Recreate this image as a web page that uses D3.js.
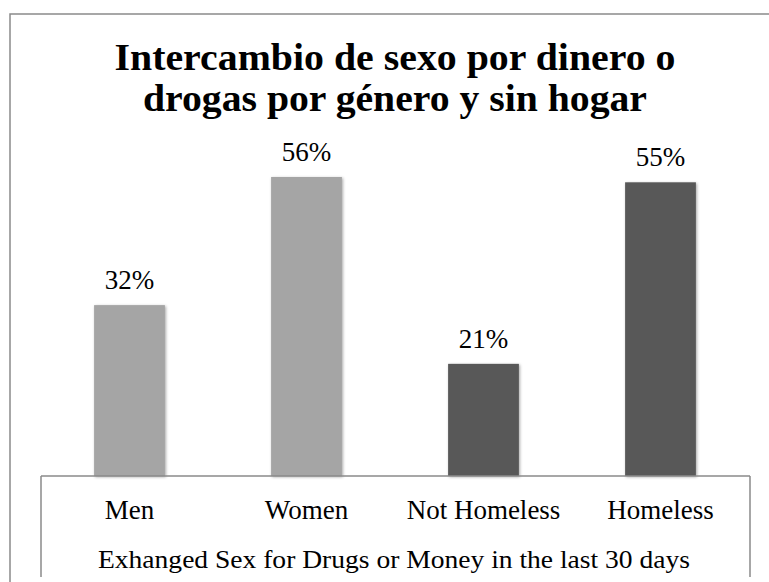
<!DOCTYPE html>
<html>
<head>
<meta charset="utf-8">
<script src="https://cdn.jsdelivr.net/npm/d3@7"></script>
<style>
  html, body { margin: 0; padding: 0; background: #ffffff; }
  svg { display: block; }
</style>
</head>
<body>
<div id="chart"></div>
<script>
const categories = ["Men", "Women", "Not Homeless", "Homeless"];
const values = [32, 56, 21, 55];
const groups = ["gender", "gender", "homeless", "homeless"];
const titleLines = ["Intercambio de sexo por dinero o", "drogas por género y sin hogar"];
const axisTitle = "Exhanged Sex for Drugs or Money in the last 30 days";

const W = 769, H = 582;
const svg = d3.select("#chart").append("svg").attr("width", W).attr("height", H);

const defs = svg.append("defs");
const f = defs.append("filter").attr("id", "shadow")
  .attr("x", "-20%").attr("y", "-5%").attr("width", "140%").attr("height", "110%");
f.append("feDropShadow").attr("dx", 1).attr("dy", 1).attr("stdDeviation", 1.6)
  .attr("flood-color", "#000").attr("flood-opacity", 0.35);

const serif = "'Liberation Serif', 'Times New Roman', serif";

// outer chart border
svg.append("rect").attr("x", 10).attr("y", 14).attr("width", 800).attr("height", 620)
  .attr("fill", "none").attr("stroke", "#8a8a8a").attr("stroke-width", 1.5);

// title
const titleWidths = [561, 504];
const titleY = [70, 111];
svg.append("g").selectAll("text").data(titleLines).join("text")
  .attr("x", 395).attr("y", (d, i) => titleY[i])
  .attr("text-anchor", "middle")
  .attr("font-family", serif).attr("font-weight", "bold").attr("font-size", 37)
  .attr("textLength", (d, i) => titleWidths[i]).attr("lengthAdjust", "spacingAndGlyphs")
  .attr("fill", "#000").text(d => d);

const x = d3.scaleBand().domain(categories).range([41, 749]).paddingInner(0.6).paddingOuter(0.3);
const y = d3.scaleLinear().domain([0, 60]).range([476, 155.6]);
const color = d3.scaleOrdinal().domain(["gender", "homeless"]).range(["#a5a5a5", "#595959"]);

// bars
svg.append("g").selectAll("rect").data(categories).join("rect")
  .attr("x", d => x(d)).attr("width", x.bandwidth())
  .attr("y", (d, i) => y(values[i])).attr("height", (d, i) => y(0) - y(values[i]))
  .attr("fill", (d, i) => color(groups[i]))
  .attr("filter", "url(#shadow)");

// value labels
svg.append("g").selectAll("text").data(categories).join("text")
  .attr("x", d => x(d) + x.bandwidth() / 2)
  .attr("y", (d, i) => y(values[i]) - 16)
  .attr("text-anchor", "middle")
  .attr("font-family", serif).attr("font-size", 27).attr("fill", "#000")
  .text((d, i) => values[i] + "%");

// category axis (table style)
const axis = d3.axisBottom(x).tickSize(0).tickPadding(0);
const ag = svg.append("g").attr("transform", `translate(0,${y(0)})`).call(axis);
ag.select(".domain").remove();
ag.selectAll("text")
  .attr("y", 43).attr("dy", null)
  .attr("font-family", serif).attr("font-size", 27).attr("fill", "#000");

// table lines
const tl = svg.append("g").attr("stroke", "#8a8a8a").attr("stroke-width", 1.5).attr("fill", "none");
tl.append("line").attr("x1", 41).attr("x2", 750).attr("y1", y(0)).attr("y2", y(0));
tl.append("line").attr("x1", 41).attr("x2", 41).attr("y1", y(0)).attr("y2", 577);
tl.append("line").attr("x1", 750).attr("x2", 750).attr("y1", y(0)).attr("y2", 577);

// axis title
svg.append("text").attr("x", 394).attr("y", 568)
  .attr("text-anchor", "middle")
  .attr("font-family", serif).attr("font-size", 25).attr("fill", "#000")
  .attr("textLength", 592).attr("lengthAdjust", "spacingAndGlyphs")
  .text(axisTitle);
</script>
</body>
</html>
